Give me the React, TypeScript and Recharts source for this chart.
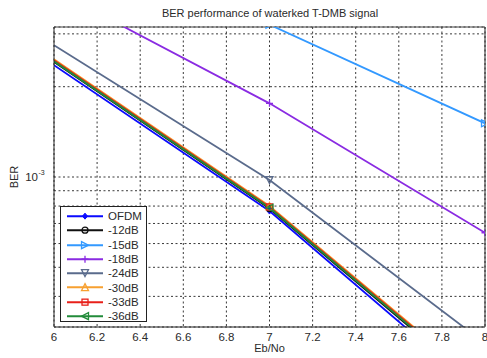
import React from 'react';
import { LineChart, Line, XAxis, YAxis, CartesianGrid, Legend, ReferenceLine } from 'recharts';

// ---- data ----
const ebNo = [6, 7, 8];
const berOFDM = [2.36e-3, 7.7e-4, 1.87e-4];
const ber12dB = [2.42e-3, 7.85e-4, 1.94e-4];
const ber15dB = [6.2e-3, 3.22e-3, 1.51e-3];
const ber18dB = [4.2e-3, 1.76e-3, 6.52e-4];
const ber24dB = [2.75e-3, 9.77e-4, 2.79e-4];
const ber30dB = [2.47e-3, 8.0e-4, 2.0e-4];
const ber33dB = [2.45e-3, 7.95e-4, 1.98e-4];
const ber36dB = [2.43e-3, 7.9e-4, 1.96e-4];

const xTicks = [6, 6.2, 6.4, 6.6, 6.8, 7, 7.2, 7.4, 7.6, 7.8, 8];
const yTicks = [4e-4, 5e-4, 6e-4, 7e-4, 8e-4, 9e-4, 1e-3, 2e-3, 3e-3];
const yDomain: [number, number] = [3.1623e-4, 3.1623e-3];
const xDomain: [number, number] = [6, 8];

const seriesNames = ['OFDM', '-12dB', '-15dB', '-18dB', '-24dB', '-30dB', '-33dB', '-36dB'];
const seriesValues = [berOFDM, ber12dB, ber15dB, ber18dB, ber24dB, ber30dB, ber33dB, ber36dB];

// ---- styles ----
const seriesStyle = [
  { color: '#0a0aff', shape: 'dot' },
  { color: '#111111', shape: 'circle' },
  { color: '#3399ff', shape: 'right' },
  { color: '#8a2be2', shape: 'plus' },
  { color: '#5a6b8c', shape: 'down' },
  { color: '#f7a030', shape: 'up' },
  { color: '#e8201a', shape: 'square' },
  { color: '#228b3a', shape: 'left' },
];

const FONT = '"Liberation Sans", Arial, sans-serif';
const TEXT = '#2a2a2a';

const data = ebNo.map((x, i) => {
  const row: Record<string, number> = { x };
  seriesNames.forEach((n, k) => {
    row[n] = seriesValues[k][i];
  });
  return row;
});

function Marker({ cx, cy, shape, color }: { cx: number; cy: number; shape: string; color: string }) {
  const r = 3.5;
  const sw = 1.3;
  switch (shape) {
    case 'dot':
      return <path d={`M${cx},${cy - 3}L${cx + 2.5},${cy}L${cx},${cy + 3}L${cx - 2.5},${cy}Z`} fill={color} stroke={color} />;
    case 'circle':
      return <circle cx={cx} cy={cy} r={3} fill="none" stroke={color} strokeWidth={sw} />;
    case 'right':
      return <path d={`M${cx - r},${cy - r}L${cx + r},${cy}L${cx - r},${cy + r}Z`} fill="none" stroke={color} strokeWidth={sw} />;
    case 'left':
      return <path d={`M${cx + r},${cy - r}L${cx - r},${cy}L${cx + r},${cy + r}Z`} fill="none" stroke={color} strokeWidth={sw} />;
    case 'up':
      return <path d={`M${cx},${cy - r}L${cx + r},${cy + r}L${cx - r},${cy + r}Z`} fill="none" stroke={color} strokeWidth={sw} />;
    case 'down':
      return <path d={`M${cx - r},${cy - r}L${cx + r},${cy - r}L${cx},${cy + r}Z`} fill="none" stroke={color} strokeWidth={sw} />;
    case 'square':
      return <rect x={cx - 3} y={cy - 3} width={6} height={6} fill="none" stroke={color} strokeWidth={sw} />;
    case 'plus':
      return <path d={`M${cx - r},${cy}L${cx + r},${cy}M${cx},${cy - r}L${cx},${cy + r}`} stroke={color} strokeWidth={sw} />;
    default:
      return null;
  }
}

function YTick(props: any) {
  const { x, y, payload } = props;
  if (Math.abs(payload.value - 1e-3) > 1e-9) return <g />;
  return (
    <g>
      <text x={x - 14} y={y + 4} textAnchor="end" fontSize={11.5} fontFamily={FONT} fill={TEXT}>10</text>
      <text x={x - 13.5} y={y - 2} textAnchor="start" fontSize={7} fontFamily={FONT} fill={TEXT}>-3</text>
    </g>
  );
}

function LegendBox() {
  const rowH = 14.3;
  return (
    <div style={{ border: '1px solid #222', background: '#fff', width: 87, height: 116, boxSizing: 'border-box', padding: '2px 0 0 0', fontFamily: FONT, fontSize: 11.5, color: TEXT }}>
      {seriesNames.map((n, i) => (
        <div key={n} style={{ height: rowH, display: 'flex', alignItems: 'center' }}>
          <svg width={46} height={rowH} style={{ display: 'block' }}>
            <line x1={6} x2={42} y1={rowH / 2} y2={rowH / 2} stroke={seriesStyle[i].color} strokeWidth={2} />
            <Marker cx={24} cy={rowH / 2} shape={seriesStyle[i].shape} color={seriesStyle[i].color} />
          </svg>
          <span style={{ marginLeft: 1 }}>{n}</span>
        </div>
      ))}
    </div>
  );
}

export default function App() {
  return (
    <div style={{ position: 'fixed', left: 0, top: 0, background: '#fff' }}>
      <LineChart width={487} height={358} data={data} margin={{ top: 27, right: 2, left: 0, bottom: 0 }}>
        <CartesianGrid stroke="#222" strokeDasharray="2 2.5" strokeWidth={0.9} />
        <XAxis
          dataKey="x"
          type="number"
          domain={xDomain}
          ticks={xTicks}
          interval={0}
          allowDataOverflow
          height={31}
          tickSize={0}
          tickMargin={6}
          tickFormatter={(v: number) => String(Number(v.toFixed(1)))}
          tick={{ fontSize: 11.5, fontFamily: FONT, fill: TEXT }}
          stroke="#222"
          label={(p: any) => {
            const vb = p.viewBox || {};
            return (
              <text x={vb.x + vb.width / 2} y={352} textAnchor="middle" fontSize={11} fontFamily={FONT} fill={TEXT}>Eb/No</text>
            );
          }}
        />
        <YAxis
          type="number"
          scale="log"
          domain={yDomain}
          ticks={yTicks}
          interval={0}
          allowDataOverflow
          width={54}
          tickSize={0}
          tick={<YTick />}
          stroke="#222"
          label={(p: any) => {
            const vb = p.viewBox || {};
            const cy = vb.y + vb.height / 2;
            return (
              <g>
                <text x={18} y={cy} transform={`rotate(-90 18 ${cy})`} textAnchor="middle" fontSize={11} fontFamily={FONT} fill={TEXT}>BER</text>
                <text x={270} y={17} textAnchor="middle" fontSize={11} fontFamily={FONT} fill={TEXT}>BER performance of waterked T-DMB signal</text>
              </g>
            );
          }}
        />
        <ReferenceLine x={xDomain[1]} stroke="#222" />
        <ReferenceLine y={yDomain[1]} stroke="#444" />
        {seriesNames.map((n, i) => (
          <Line
            key={n}
            dataKey={n}
            name={n}
            stroke={seriesStyle[i].color}
            strokeWidth={1.8}
            isAnimationActive={false}
            dot={(p: any) =>
              p.index === 0 ? (
                <g key={`${n}-${p.index}`} />
              ) : (
                <Marker key={`${n}-${p.index}`} cx={p.cx} cy={p.cy} shape={seriesStyle[i].shape} color={seriesStyle[i].color} />
              )
            }
            activeDot={false}
          />
        ))}
        <Legend
          layout="vertical"
          align="center"
          verticalAlign="middle"
          content={() => <LegendBox />}
          wrapperStyle={{ left: 60, top: 206, width: 'auto', height: 'auto' }}
        />
      </LineChart>
    </div>
  );
}
